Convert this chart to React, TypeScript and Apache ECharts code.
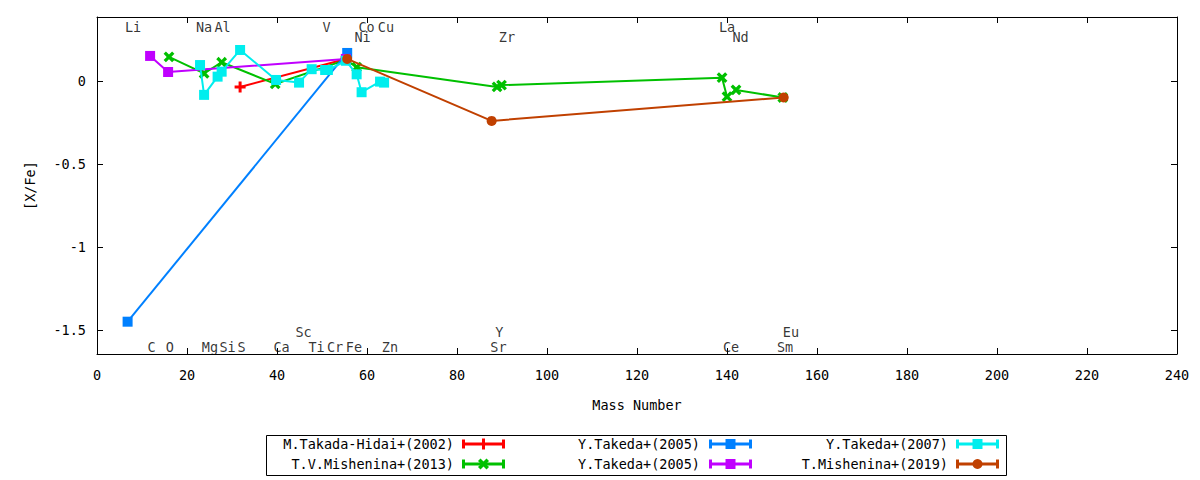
import React, { useEffect, useRef } from "react";
import * as echarts from "echarts";

// ---- data (mass number, [X/Fe]) ----
const takadaHidai2002 = [
  [31.8, -0.033],
  [55.3, 0.136],
];
const mishenina2013 = [
  [16.0, 0.148],
  [23.8, 0.049],
  [27.7, 0.116],
  [39.6, -0.015],
  [55.3, 0.13],
  [57.7, 0.086],
  [88.9, -0.033],
  [89.9, -0.022],
  [138.9, 0.023],
  [140.0, -0.092],
  [142.0, -0.051],
  [152.4, -0.097],
];
const takeda2005a = [
  [6.8, -1.45],
  [55.6, 0.172],
];
const takeda2005b = [
  [11.8, 0.154],
  [15.8, 0.057],
  [55.3, 0.136],
];
const takeda2007 = [
  [22.9, 0.099],
  [23.8, -0.081],
  [26.8, 0.029],
  [27.7, 0.059],
  [31.8, 0.19],
  [39.8, 0.009],
  [44.9, -0.007],
  [47.7, 0.074],
  [50.7, 0.069],
  [51.3, 0.069],
  [55.3, 0.125],
  [57.7, 0.043],
  [58.8, -0.065],
  [62.9, -0.001],
  [63.8, -0.007],
];
const mishenina2019 = [
  [55.6, 0.136],
  [87.7, -0.238],
  [152.6, -0.097],
];

const seriesNames = [
  "M.Takada-Hidai+(2002)",
  "T.V.Mishenina+(2013)",
  "Y.Takeda+(2005)",
  "Y.Takeda+(2005)",
  "Y.Takeda+(2007)",
  "T.Mishenina+(2019)",
];
const seriesData = [takadaHidai2002, mishenina2013, takeda2005a, takeda2005b, takeda2007, mishenina2019];
const seriesColors = ["#ff0000", "#00c000", "#0080ff", "#c000ff", "#00eeee", "#c04000"];
const seriesMarkers = ["plus", "cross", "square", "square", "square", "circle"];

// element labels: name, x position, row (0 top, 1 second top, 2 bottom, 3 second bottom)
const elementNames = ["Li", "Na", "Al", "V", "Co", "Cu", "Ni", "Zr", "La", "Nd",
  "C", "O", "Mg", "Si", "S", "Ca", "Sc", "Ti", "Cr", "Fe", "Zn", "Sr", "Y", "Ce", "Sm", "Eu"];
const elementX = [8.0, 23.8, 27.9, 51.0, 59.9, 64.2, 59.0, 91.1, 140.0, 143.0,
  12.1, 16.2, 25.1, 29.0, 32.1, 41.0, 45.9, 48.8, 52.9, 57.1, 65.1, 89.2, 89.4, 140.9, 152.9, 154.2];
const elementRow = [0, 0, 0, 0, 0, 0, 1, 1, 0, 1,
  2, 2, 2, 2, 2, 2, 3, 2, 2, 2, 2, 2, 3, 2, 2, 3];

const yTicks = [-1.5, -1, -0.5, 0];

const FONT = "DejaVu Sans Mono";
const FS = 13.5;
const PLUS_PATH = "path://M4,0h3v4h4v3h-4v4h-3v-4h-4v-3h4z";

const rowY = [0.328, 0.268, -1.6, -1.513];

function symbolFor(m: string) {
  if (m === "plus") return { symbol: PLUS_PATH, symbolSize: 11, symbolRotate: 0 };
  if (m === "cross") return { symbol: PLUS_PATH, symbolSize: 12, symbolRotate: 45 };
  if (m === "square") return { symbol: "rect", symbolSize: 10, symbolRotate: 0 };
  return { symbol: "circle", symbolSize: 10, symbolRotate: 0 };
}

function legendMarker(m: string, cx: number, cy: number, color: string) {
  if (m === "plus") {
    return [{ type: "rect", shape: { x: cx - 1.5, y: cy - 5.5, width: 3, height: 11 }, style: { fill: color } }];
  }
  if (m === "cross") {
    return [
      { type: "rect", x: cx, y: cy, rotation: Math.PI / 4, shape: { x: -1.75, y: -6, width: 3.5, height: 12 }, style: { fill: color } },
      { type: "rect", x: cx, y: cy, rotation: -Math.PI / 4, shape: { x: -1.75, y: -6, width: 3.5, height: 12 }, style: { fill: color } },
    ];
  }
  if (m === "square") {
    return [{ type: "rect", shape: { x: cx - 5, y: cy - 5, width: 10, height: 10 }, style: { fill: color } }];
  }
  return [{ type: "circle", shape: { cx, cy, r: 5 }, style: { fill: color } }];
}

export default function App() {
  const ref = useRef<HTMLDivElement>(null);
  useEffect(() => {
    if (!ref.current) return;
    const chart = echarts.init(ref.current, null, { renderer: "svg" });

    const legendTextRight = [454, 700, 948];
    const legendLineStart = [462, 709, 956];
    const legendLineEnd = [505, 752, 999];
    const legendRowY = [444, 464];
    const graphics: any[] = [
      { type: "rect", shape: { x: 266.5, y: 435.5, width: 740, height: 40 }, style: { fill: "none", stroke: "#000", lineWidth: 1 } },
    ];
    seriesNames.forEach((name, i) => {
      const col = Math.floor(i / 2);
      const row = i % 2;
      const y = legendRowY[row];
      const color = seriesColors[i];
      graphics.push({
        type: "text",
        x: legendTextRight[col],
        y,
        style: { text: name, align: "right", verticalAlign: "middle", font: `${FS}px "${FONT}"`, fill: "#000" },
      });
      const x1 = legendLineStart[col];
      const x2 = legendLineEnd[col];
      graphics.push({ type: "rect", shape: { x: x1, y: y - 1.5, width: x2 - x1, height: 3 }, style: { fill: color } });
      graphics.push({ type: "rect", shape: { x: x1, y: y - 4.5, width: 3, height: 9 }, style: { fill: color } });
      graphics.push({ type: "rect", shape: { x: x2 - 3, y: y - 4.5, width: 3, height: 9 }, style: { fill: color } });
      legendMarker(seriesMarkers[i], (x1 + x2) / 2, y, color).forEach((g) => graphics.push(g));
    });

    const lineSeries = seriesNames.map((name, i) => {
      const s = symbolFor(seriesMarkers[i]);
      return {
        type: "line",
        name,
        data: seriesData[i],
        color: seriesColors[i],
        lineStyle: { width: 2, color: seriesColors[i] },
        itemStyle: { color: seriesColors[i] },
        symbol: s.symbol,
        symbolSize: s.symbolSize,
        symbolRotate: s.symbolRotate,
        showAllSymbol: true,
        z: 2 + i,
      };
    });

    const labelSeries = {
      type: "scatter",
      name: "elements",
      silent: true,
      symbolSize: 0,
      z: 20,
      data: elementNames.map((n, i) => ({ name: n, value: [elementX[i], rowY[elementRow[i]]] })),
      label: {
        show: true,
        position: "inside",
        formatter: "{b}",
        color: "#000",
        fontFamily: FONT,
        fontSize: FS,
      },
    };

    const axisCommon = {
      axisLine: { show: true, onZero: false, lineStyle: { color: "#000", width: 1 } },
      axisTick: { show: true, inside: true, length: 6, lineStyle: { color: "#000" } },
      splitLine: { show: false },
    };

    chart.setOption({
      animation: false,
      textStyle: { fontFamily: FONT },
      grid: { left: 97, right: 23, top: 17, bottom: 126, containLabel: false, outerBoundsMode: "none" },
      xAxis: [
        {
          type: "value",
          min: 0,
          max: 240,
          interval: 20,
          position: "bottom",
          ...axisCommon,
          axisLabel: { color: "#000", fontFamily: FONT, fontSize: FS, margin: 14 },
          name: "Mass Number",
          nameLocation: "middle",
          nameGap: 44,
          nameTextStyle: { color: "#000", fontFamily: FONT, fontSize: FS },
        },
        {
          type: "value",
          min: 0,
          max: 240,
          interval: 20,
          position: "top",
          ...axisCommon,
          axisLabel: { show: false },
        },
      ],
      yAxis: [
        {
          type: "value",
          min: -1.645,
          max: 0.389,
          position: "left",
          ...axisCommon,
          axisTick: { ...axisCommon.axisTick, customValues: yTicks },
          axisLabel: {
            color: "#000",
            fontFamily: FONT,
            fontSize: FS,
            margin: 11,
            customValues: yTicks,
            formatter: (v: number) => String(v),
          },
          name: "[X/Fe]",
          nameLocation: "middle",
          nameGap: 60,
          nameRotate: 90,
          nameTextStyle: { color: "#000", fontFamily: FONT, fontSize: FS },
        },
        {
          type: "value",
          min: -1.645,
          max: 0.389,
          position: "right",
          ...axisCommon,
          axisTick: { ...axisCommon.axisTick, customValues: yTicks },
          axisLabel: { show: false },
        },
      ],
      series: [...lineSeries, labelSeries],
      graphic: graphics,
    });
    return () => chart.dispose();
  }, []);
  return (
    <div
      ref={ref}
      style={{ position: "absolute", left: 0, top: 0, width: 1200, height: 480, background: "#fff" }}
    />
  );
}
